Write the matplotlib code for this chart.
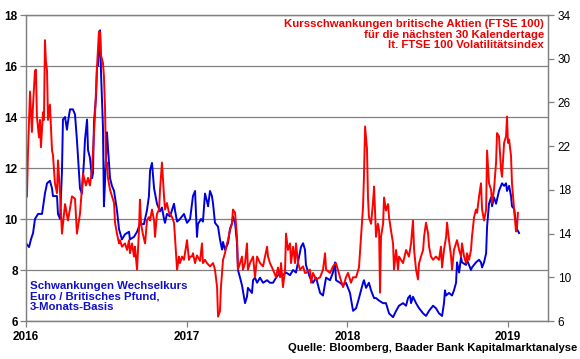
import matplotlib
matplotlib.use("Agg")
import matplotlib.pyplot as plt

plt.rcParams['font.family'] = ['Liberation Sans', 'DejaVu Sans']

# EUR/GBP 3-month volatility (left axis), time in decimal years
fx_t = [2016.006, 2016.019, 2016.031, 2016.044, 2016.056, 2016.075, 2016.100, 2016.118,
        2016.131, 2016.149, 2016.162, 2016.168, 2016.193, 2016.199, 2016.212, 2016.224,
        2016.230, 2016.243, 2016.255, 2016.261, 2016.274, 2016.292, 2016.305, 2016.317,
        2016.324, 2016.336, 2016.348, 2016.361, 2016.367, 2016.380, 2016.386, 2016.398,
        2016.411, 2016.417, 2016.423, 2016.436, 2016.442, 2016.448, 2016.461, 2016.467,
        2016.479, 2016.485, 2016.492, 2016.504, 2016.510, 2016.523, 2016.535, 2016.548,
        2016.566, 2016.579, 2016.597, 2016.616, 2016.641, 2016.647, 2016.672, 2016.691,
        2016.709, 2016.734, 2016.753, 2016.765, 2016.772, 2016.784, 2016.797, 2016.803,
        2016.815, 2016.834, 2016.846, 2016.859, 2016.865, 2016.877, 2016.896, 2016.921,
        2016.927, 2016.940, 2016.958, 2016.983, 2017.002, 2017.021, 2017.039, 2017.052,
        2017.064, 2017.070, 2017.089, 2017.101, 2017.114, 2017.126, 2017.133, 2017.145,
        2017.157, 2017.164, 2017.176, 2017.195, 2017.207, 2017.220, 2017.226, 2017.238,
        2017.257, 2017.269, 2017.282, 2017.288, 2017.301, 2017.313, 2017.319, 2017.332,
        2017.344, 2017.363, 2017.375, 2017.381, 2017.394, 2017.406, 2017.413, 2017.425,
        2017.438, 2017.456, 2017.475, 2017.500, 2017.518, 2017.537, 2017.556, 2017.581,
        2017.599, 2017.618, 2017.643, 2017.662, 2017.680, 2017.699, 2017.711, 2017.724,
        2017.736, 2017.742, 2017.767, 2017.786, 2017.805, 2017.830, 2017.848, 2017.867,
        2017.892, 2017.910, 2017.923, 2017.929, 2017.954, 2017.973, 2017.991, 2018.016,
        2018.035, 2018.054, 2018.072, 2018.097, 2018.103, 2018.116, 2018.134, 2018.147,
        2018.166, 2018.178, 2018.197, 2018.222, 2018.240, 2018.259, 2018.284, 2018.303,
        2018.321, 2018.346, 2018.365, 2018.377, 2018.390, 2018.396, 2018.408, 2018.427,
        2018.446, 2018.471, 2018.489, 2018.508, 2018.533, 2018.551, 2018.570, 2018.589,
        2018.601, 2018.607, 2018.614, 2018.632, 2018.651, 2018.663, 2018.676, 2018.682,
        2018.695, 2018.707, 2018.713, 2018.738, 2018.744, 2018.769, 2018.775, 2018.800,
        2018.819, 2018.831, 2018.838, 2018.850, 2018.863, 2018.869, 2018.881, 2018.894,
        2018.900, 2018.912, 2018.925, 2018.943, 2018.962, 2018.975, 2018.987, 2018.993,
        2019.006, 2019.018, 2019.024, 2019.037, 2019.049, 2019.055, 2019.068]
fx_vol = [9.0, 8.9, 9.2, 9.45, 10.0, 10.2, 10.2, 11.0,
          11.4, 11.5, 11.2, 10.9, 10.9, 10.2, 10.0, 11.9,
          13.9, 14.0, 13.5, 13.8, 14.3, 14.3, 14.1, 13.1,
          12.4, 11.2, 11.0, 12.3, 13.1, 13.9, 12.7, 12.4,
          11.6, 11.8, 13.8, 14.8, 16.0, 16.0, 17.4, 15.7,
          13.6, 10.5, 11.5, 13.4, 12.8, 11.6, 11.3, 11.1,
          10.35, 9.6, 9.2, 9.4, 9.5, 9.2, 9.3, 9.5,
          9.8, 9.8, 10.35, 10.9, 11.9, 12.2, 11.2, 11.0,
          10.6, 10.3, 10.45, 10.0, 9.85, 10.2, 10.1, 10.6,
          10.35, 9.9, 10.0, 10.2, 9.85, 10.0, 10.9, 11.1,
          9.3, 9.8, 10.0, 9.9, 11.0, 10.7, 10.5, 11.1,
          10.9, 10.6, 9.85, 9.7, 9.2, 8.8, 9.1, 8.8,
          9.05, 9.6, 9.85, 10.1, 9.85, 9.05, 8.0, 7.7,
          7.4, 6.7, 6.95, 7.3, 7.2, 7.1, 7.6, 7.7,
          7.5, 7.7, 7.5, 7.6, 7.5, 7.5, 7.7, 7.9,
          7.8, 7.9, 7.8, 8.0, 7.9, 8.5, 8.9, 9.05,
          8.8, 8.2, 7.7, 7.5, 7.7, 7.1, 7.0, 7.7,
          7.6, 7.9, 8.3, 7.6, 7.5, 7.4, 7.5, 7.1,
          6.4, 6.5, 6.9, 7.5, 7.6, 7.3, 7.5, 7.2,
          6.9, 6.9, 6.8, 6.7, 6.7, 6.3, 6.15, 6.4,
          6.6, 6.7, 6.6, 6.9, 7.0, 6.7, 6.95, 6.7,
          6.5, 6.3, 6.2, 6.4, 6.6, 6.5, 6.3, 6.2,
          6.7, 7.2, 7.0, 7.1, 7.0, 7.2, 7.5, 8.3,
          7.9, 8.5, 8.3, 8.2, 8.4, 8.0, 8.1, 8.3,
          8.4, 8.3, 8.1, 8.3, 8.65, 9.7, 10.6, 10.85,
          10.5, 10.85, 10.6, 11.1, 11.4, 11.3, 11.4, 11.1,
          11.3, 10.9, 10.5, 10.4, 9.85, 9.6, 9.45]

# FTSE 100 volatility index (right axis)
ftse_t = [2016.006, 2016.012, 2016.025, 2016.037, 2016.044, 2016.056, 2016.062, 2016.068,
          2016.081, 2016.087, 2016.093, 2016.106, 2016.112, 2016.118, 2016.124, 2016.131,
          2016.137, 2016.149, 2016.162, 2016.168, 2016.180, 2016.193, 2016.199, 2016.212,
          2016.224, 2016.243, 2016.261, 2016.274, 2016.286, 2016.305, 2016.317, 2016.336,
          2016.355, 2016.373, 2016.386, 2016.398, 2016.411, 2016.429, 2016.442, 2016.454,
          2016.461, 2016.467, 2016.479, 2016.485, 2016.492, 2016.498, 2016.504, 2016.510,
          2016.523, 2016.548, 2016.554, 2016.566, 2016.579, 2016.585, 2016.597, 2016.616,
          2016.629, 2016.641, 2016.647, 2016.660, 2016.672, 2016.678, 2016.691, 2016.703,
          2016.709, 2016.716, 2016.728, 2016.741, 2016.753, 2016.765, 2016.772, 2016.784,
          2016.797, 2016.803, 2016.815, 2016.828, 2016.834, 2016.846, 2016.859, 2016.865,
          2016.877, 2016.890, 2016.909, 2016.921, 2016.927, 2016.940, 2016.952, 2016.958,
          2016.971, 2016.983, 2017.002, 2017.014, 2017.021, 2017.033, 2017.039, 2017.052,
          2017.064, 2017.083, 2017.095, 2017.101, 2017.114, 2017.126, 2017.145, 2017.164,
          2017.176, 2017.189, 2017.195, 2017.207, 2017.213, 2017.220, 2017.226, 2017.238,
          2017.251, 2017.257, 2017.269, 2017.282, 2017.288, 2017.301, 2017.313, 2017.319,
          2017.332, 2017.344, 2017.350, 2017.363, 2017.375, 2017.381, 2017.394, 2017.413,
          2017.425, 2017.438, 2017.456, 2017.475, 2017.500, 2017.506, 2017.518, 2017.537,
          2017.556, 2017.568, 2017.581, 2017.587, 2017.599, 2017.612, 2017.618, 2017.630,
          2017.643, 2017.649, 2017.662, 2017.674, 2017.680, 2017.693, 2017.705, 2017.724,
          2017.736, 2017.742, 2017.767, 2017.774, 2017.786, 2017.805, 2017.830, 2017.848,
          2017.861, 2017.867, 2017.892, 2017.910, 2017.929, 2017.954, 2017.973, 2017.991,
          2018.004, 2018.022, 2018.035, 2018.054, 2018.072, 2018.085, 2018.097, 2018.103,
          2018.110, 2018.122, 2018.128, 2018.134, 2018.147, 2018.159, 2018.166, 2018.178,
          2018.190, 2018.197, 2018.203, 2018.209, 2018.222, 2018.228, 2018.240, 2018.253,
          2018.259, 2018.271, 2018.284, 2018.290, 2018.303, 2018.315, 2018.321, 2018.346,
          2018.365, 2018.383, 2018.396, 2018.408, 2018.415, 2018.427, 2018.439, 2018.446,
          2018.458, 2018.471, 2018.477, 2018.489, 2018.502, 2018.508, 2018.520, 2018.533,
          2018.551, 2018.570, 2018.582, 2018.589, 2018.601, 2018.614, 2018.620, 2018.632,
          2018.645, 2018.651, 2018.663, 2018.676, 2018.682, 2018.695, 2018.707, 2018.713,
          2018.726, 2018.738, 2018.744, 2018.757, 2018.769, 2018.775, 2018.788, 2018.800,
          2018.807, 2018.819, 2018.831, 2018.838, 2018.850, 2018.863, 2018.869, 2018.881,
          2018.894, 2018.900, 2018.912, 2018.925, 2018.931, 2018.943, 2018.956, 2018.962,
          2018.975, 2018.987, 2018.993, 2018.999, 2019.006, 2019.018, 2019.024, 2019.037,
          2019.043, 2019.049, 2019.055, 2019.061]
ftse_vol = [17.4, 21.2, 27.0, 23.3, 25.8, 28.9, 29.0, 24.7,
            22.8, 24.4, 21.9, 25.1, 24.4, 31.7, 29.8, 28.9,
            24.4, 25.8, 21.6, 21.2, 18.6, 17.7, 20.7, 17.7,
            14.0, 16.7, 15.2, 16.3, 17.4, 17.2, 14.0, 15.8,
            19.5, 18.4, 19.1, 18.4, 20.0, 24.7, 29.3, 32.5,
            32.4, 30.3, 29.6, 28.4, 25.4, 20.0, 20.5, 19.1,
            18.0, 16.8, 15.0, 14.0, 13.1, 13.4, 12.8, 13.1,
            12.5, 13.4, 12.2, 13.1, 11.9, 12.8, 10.7, 14.3,
            17.1, 14.9, 13.9, 13.1, 15.2, 15.5, 15.2, 16.2,
            15.2, 13.7, 15.8, 16.2, 18.0, 20.5, 17.4, 16.2,
            16.8, 15.9, 15.5, 15.0, 13.7, 10.7, 11.9, 11.3,
            11.9, 11.6, 13.4, 11.6, 11.9, 11.9, 12.2, 11.3,
            12.0, 11.5, 13.1, 11.3, 11.6, 11.3, 11.0, 11.3,
            10.7, 9.1, 6.4, 6.9, 9.1, 10.4, 11.6, 12.2,
            13.1, 13.4, 14.3, 14.9, 16.2, 15.9, 13.7, 10.7,
            11.3, 11.9, 10.7, 11.3, 13.1, 10.7, 11.3, 11.9,
            10.0, 11.9, 11.3, 11.0, 12.8, 11.9, 11.3, 10.7,
            10.0, 10.9, 10.0, 11.3, 9.1, 10.7, 14.0, 12.5,
            13.1, 11.3, 12.8, 11.3, 13.1, 11.3, 10.7, 11.0,
            10.4, 10.4, 10.7, 9.5, 10.4, 9.8, 10.0, 10.7,
            12.2, 10.7, 10.4, 11.0, 11.3, 10.0, 9.1, 10.0,
            10.4, 9.5, 10.0, 10.0, 10.9, 13.7, 16.4, 19.2,
            23.8, 21.7, 17.3, 15.5, 14.9, 16.8, 18.3, 13.7,
            14.9, 14.3, 8.6, 13.7, 14.9, 17.3, 16.1, 16.7,
            15.5, 14.3, 13.1, 10.7, 12.5, 10.7, 11.9, 11.3,
            12.5, 11.9, 13.1, 15.2, 12.5, 10.7, 9.8, 11.3,
            11.9, 12.5, 13.7, 15.0, 14.0, 12.8, 11.9, 11.6,
            11.9, 11.6, 12.8, 10.9, 12.5, 13.7, 15.0, 13.4,
            11.9, 10.7, 12.5, 13.1, 13.4, 12.5, 11.9, 13.1,
            11.9, 11.3, 12.2, 11.6, 12.5, 13.7, 15.5, 16.2,
            15.9, 17.4, 18.6, 16.2, 15.2, 16.2, 21.6, 18.6,
            18.0, 16.8, 18.0, 20.5, 23.2, 22.9, 19.8, 19.2,
            22.3, 22.9, 24.7, 22.3, 22.6, 21.1, 18.6, 16.2,
            15.2, 14.2, 14.5, 15.9]

left_ticks = [6, 8, 10, 12, 14, 16, 18]
right_ticks = [6, 10, 14, 18, 22, 26, 30, 34]
year_ticks = [2016, 2017, 2018, 2019]

fig = plt.figure(figsize=(5.8, 3.59), dpi=100)
ax = fig.add_axes([0.0448, 0.1058, 0.9, 0.8524])
ax2 = ax.twinx()

ax.plot(fx_t, fx_vol, color='#0000dd', lw=1.4, zorder=3)
ax2.plot(ftse_t, ftse_vol, color='#ff0000', lw=1.4)

ax.set_xlim(2016, 2019.248)
ax.set_ylim(6, 18)
ax2.set_ylim(6, 34)
ax.set_xticks(year_ticks)
ax.set_xticklabels([str(y) for y in year_ticks], fontsize=8.5, fontweight='bold')
ax.set_yticks(left_ticks)
ax.set_yticklabels([str(v) for v in left_ticks], fontsize=8.5, fontweight='bold')
ax2.set_yticks(right_ticks)
ax2.set_yticklabels([str(v) for v in right_ticks], fontsize=8.5)

ax.grid(axis='y', color='#808080', lw=0.9)
ax.set_axisbelow(True)
for a in (ax, ax2):
    for s in a.spines.values():
        s.set_color('#808080')
        s.set_linewidth(0.9)
ax.tick_params(axis='y', length=4, width=0.9, color='#808080', pad=2)
ax.tick_params(axis='x', length=4, width=0.9, color='#808080', pad=3)
ax2.tick_params(axis='y', length=4, width=0.9, color='#808080', pad=3)

# annotation texts (positions in figure pixels / size)
fig.text(544 / 580, 1 - 19 / 359, "Kursschwankungen britische Aktien (FTSE 100)\n"
         "für die nächsten 30 Kalendertage\nlt. FTSE 100 Volatilitätsindex",
         ha='right', va='top', color='#ee0000', multialignment='right',
         fontsize=8.2, fontweight='bold', linespacing=1.08)
fig.text(30 / 580, 1 - 281 / 359, "Schwankungen Wechselkurs\nEuro / Britisches Pfund,\n3-Monats-Basis",
         ha='left', va='top', color='#1010cc',
         fontsize=8.2, fontweight='bold', linespacing=1.08)
fig.text(577 / 580, 1 - 348 / 359, "Quelle: Bloomberg, Baader Bank Kapitalmarktanalyse",
         ha='right', va='center', fontsize=8.1, fontweight='bold')

fig.savefig('out.png', dpi=100)
